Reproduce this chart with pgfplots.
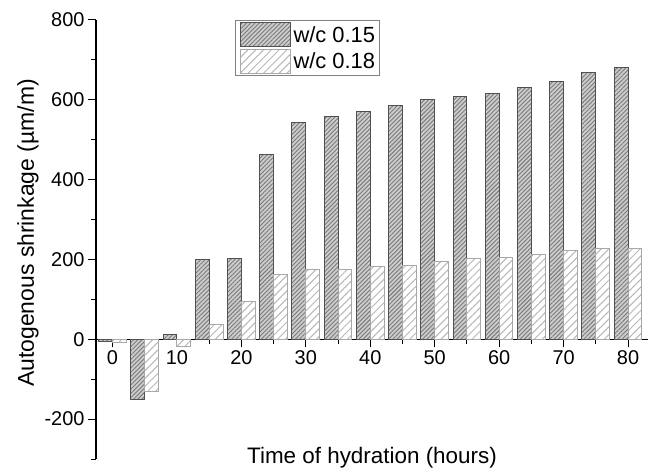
\documentclass[border=0pt]{standalone}
\usepackage{pgfplots}
\pgfplotsset{compat=1.18}
\usepackage{fontspec}
\setmainfont{Liberation Sans}
\usetikzlibrary{patterns.meta}
\definecolor{darkfill}{HTML}{CCCCCC}
\definecolor{darkline}{HTML}{7A7A7A}
\definecolor{darkedge}{HTML}{505050}
\definecolor{lightline}{HTML}{B8B8B8}
\definecolor{lightedge}{HTML}{A8A8A8}
\begin{document}
\begin{tikzpicture}
\begin{axis}[
  scale only axis, width=552bp, height=439bp,
  xmin=-2.56, xmax=83.1, ymin=-300, ymax=800,
  axis x line*=middle, axis y line*=left,
  xtick={0,10,...,80}, minor xtick={5,15,...,75},
  ytick={-200,0,...,800}, minor ytick={-300,-100,...,700},
  tick align=outside, major tick length=8bp, minor tick length=4.5bp,
  every tick/.style={line width=1bp, black},
  axis line style={line width=1.1bp, black},
  /pgf/number format/assume math mode=true,
  ticklabel style={font=\fontsize{20}{24}\selectfont},
  xlabel={Time of hydration (hours)},
  ylabel={Autogenous shrinkage (\textmu m/m)},
  every axis x label/.style={at={(rel axis cs:0.5,0)}, anchor=base, yshift=-4bp, font=\fontsize{22.5}{27}\selectfont},
  every axis y label/.style={at={(rel axis cs:0,0.515)}, xshift=-68bp, rotate=90, anchor=center, font=\fontsize{23}{27}\selectfont},
  ybar, bar width=2.15,
  legend style={at={(rel axis cs:0.252,1.0)}, anchor=north west, draw=gray, line width=0.8bp,
    font=\fontsize{22}{26}\selectfont, inner xsep=1bp, inner ysep=2bp, row sep=1.5bp,
    nodes={inner xsep=3bp, inner ysep=1bp}},
  legend cell align=left,
  legend image code/.code={\path (-3bp,0bp); \draw[#1, bar shift=0pt] (0bp,-12bp) rectangle (50bp,12bp);},
]
\addplot[bar shift=-1.075, preaction={fill=darkfill}, pattern={Lines[angle=45,distance=3bp,line width=0.9bp]}, pattern color=darkline, draw=darkedge, line width=1bp]
coordinates {(0,-5) (5,-151) (10,13) (15,199) (20,202) (25,464) (30,544) (35,559) (40,570) (45,586) (50,602) (55,609) (60,616) (65,631) (70,647) (75,668) (80,682)};
\addlegendentry{w/c 0.15}
\addplot[bar shift=1.075, preaction={fill=white}, pattern={Lines[angle=45,distance=5.5bp,line width=1bp]}, pattern color=lightline, draw=lightedge, line width=1bp]
coordinates {(0,-8) (5,-131) (10,-17) (15,36) (20,94) (25,163) (30,174) (35,176) (40,182) (45,185) (50,196) (55,203) (60,205) (65,213) (70,222) (75,227) (80,227)};
\addlegendentry{w/c 0.18}
\coordinate (ll) at (rel axis cs:0,0);
\end{axis}
\pgfresetboundingbox
\path[use as bounding box] (ll) ++(-96bp,-10bp) rectangle ++(651bp,469bp);
\end{tikzpicture}
\end{document}
